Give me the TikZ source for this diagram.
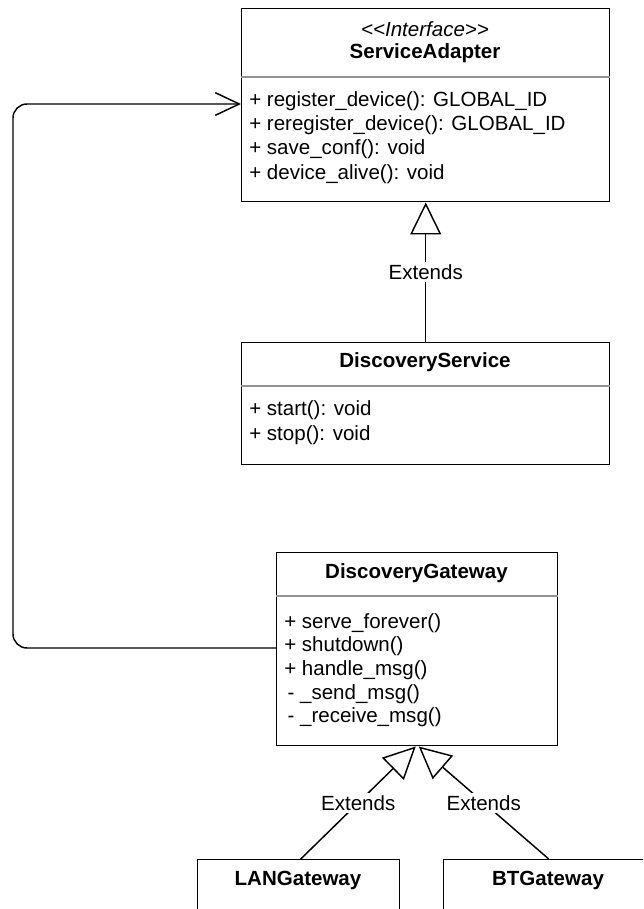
\documentclass[tikz,border=0pt]{standalone}
\usepackage{fontspec}
\newfontfamily\umlfont{Liberation Sans}
\usetikzlibrary{arrows.meta,calc}
\newcommand\umltext{\umlfont\fontsize{15.4pt}{18pt}\selectfont}

\begin{document}
\begin{tikzpicture}[x=0.75pt,y=-0.75pt,
  box/.style={draw, line width=1.1pt, fill=white, inner sep=0pt, anchor=north west},
  sep/.style={draw=black!42, line width=0.9pt},
  title/.style={font=\umltext\bfseries, inner sep=0pt, anchor=base},
  stereo/.style={font=\umltext\itshape, inner sep=0pt, anchor=base},
  member/.style={font=\umltext, inner sep=0pt, anchor=base west},
  lbl/.style={font=\umltext, fill=white, inner sep=2pt},
  link/.style={line width=1.1pt},
  extends/.style={link, -{Triangle[open, length=24pt, width=23.25pt, fill=white]}},
  uses/.style={link, rounded corners=10.5pt, -{Straight Barb[length=18pt, width=17pt]}},
]
\useasboundingbox (0,0) rectangle (643,909);
\clip (0,0) rectangle (643,909);

% class boxes
\node[box, minimum width=276pt, minimum height=144.75pt] (sa) at (241,8) {};
\node[box, minimum width=276pt, minimum height=91.5pt] (ds) at (241,342) {};
\node[box, minimum width=210.75pt, minimum height=144.75pt] (dg) at (276,552) {};
\node[box, minimum width=151.5pt, minimum height=60pt] (lan) at (197,859) {};
\node[box, minimum width=157.5pt, minimum height=60pt] (bt) at (443,859) {};

% compartment separators
\draw[sep] ($(sa.north west)+(0,69)$) -- ($(sa.north east)+(0,69)$);
\draw[sep] ($(ds.north west)+(0,44)$) -- ($(ds.north east)+(0,44)$);
\draw[sep] ($(dg.north west)+(0,44)$) -- ($(dg.north east)+(0,44)$);

% ServiceAdapter
\node[stereo] (saStereo) at (425,37) {<<Interface>>};
\node[title] (saTitle) at (425,59) {ServiceAdapter};
\node[member] (saM1) at (249,107) {+ register\_device(): GLOBAL\_ID};
\node[member] (saM2) at (249,131) {+ reregister\_device(): GLOBAL\_ID};
\node[member] (saM3) at (249,155) {+ save\_conf(): void};
\node[member] (saM4) at (249,179.5) {+ device\_alive(): void};

% DiscoveryService
\node[title] (dsTitle) at (425,367) {DiscoveryService};
\node[member] (dsM1) at (249,415.5) {+ start(): void};
\node[member] (dsM2) at (249,440) {+ stop(): void};

% DiscoveryGateway
\node[title] (dgTitle) at (416.5,578.5) {DiscoveryGateway};
\node[member] (dgM1) at (284,628) {+ serve\_forever()};
\node[member] (dgM2) at (284,651.7) {+ shutdown()};
\node[member] (dgM3) at (284,675.4) {+ handle\_msg()};
\node[member] (dgM4) at (284,699) {\hspace*{2.5pt}- \_send\_msg()};
\node[member] (dgM5) at (284,722.7) {\hspace*{2.5pt}- \_receive\_msg()};

% gateway subclasses
\node[title] (lanTitle) at (298,885.5) {LANGateway};
\node[title] (btTitle) at (548,885) {BTGateway};

% generalisations
\draw[extends] (ds.north) -- node[lbl] (ext1) {Extends} (sa.south);
\draw[extends] ($(lan.north)+(2,0)$) -- node[lbl] (ext2) {Extends} ($(dg.south)+(-1.5,0)$);
\draw[extends] (bt.north) -- node[lbl] (ext3) {Extends} ($(dg.south)+(1.5,0)$);

% gateway uses the adapter
\coordinate (gwOut) at ($(dg.north west)+(0,96)$);
\coordinate (saIn) at ($(sa.north west)+(0,96)$);
\coordinate (rail) at (13,0);
\draw[uses] (gwOut) -- (gwOut -| rail) -- (saIn -| rail) -- (saIn);
\end{tikzpicture}
\end{document}
